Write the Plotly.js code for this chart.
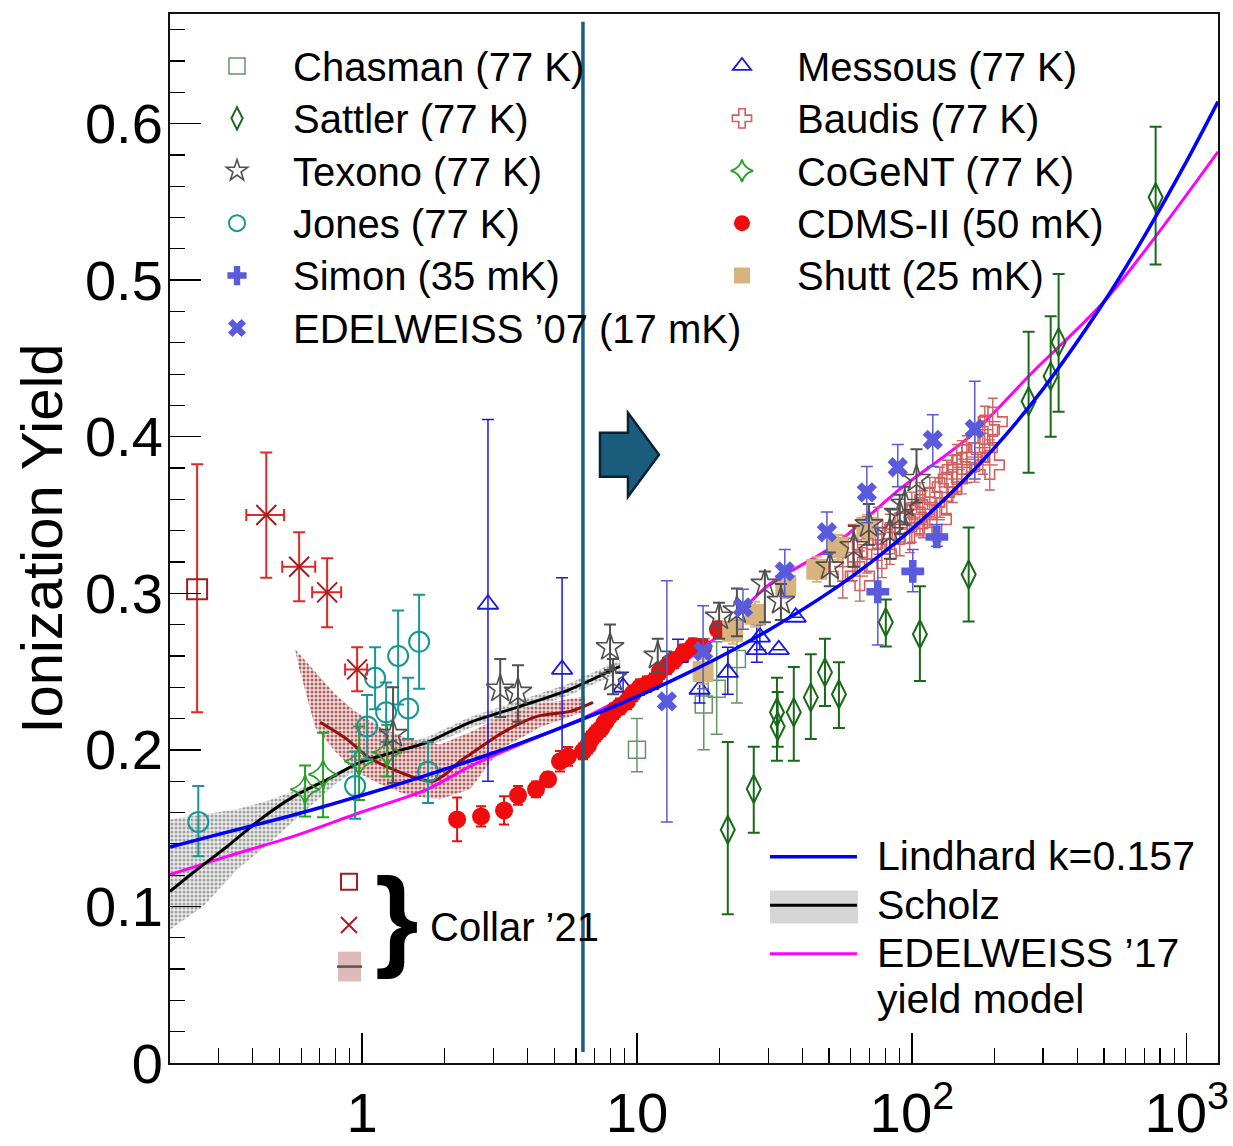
<!DOCTYPE html>
<html><head><meta charset="utf-8">
<script src="https://cdn.plot.ly/plotly-3.0.1.min.js"></script>
<style>html,body{margin:0;padding:0;background:#fff}#chart{width:1233px;height:1146px}</style>
</head><body><div id="chart"></div><script>
const FONT = '"Liberation Sans", Arial, Helvetica, sans-serif';

// ---------------- curves ----------------
const lindE = [0.2,0.3,0.5,0.7,1,1.5,2,3,5,7,10,15,20,30,50,70,100,150,200,300,500,700,1000,1300];
const lindY = [0.138,0.146,0.156,0.163,0.171,0.1805,0.1876,0.198,0.2124,0.2226,0.234,0.2484,0.2593,0.2763,0.3006,0.319,0.341,0.3698,0.393,0.4304,0.486,0.5278,0.576,0.614];

const edw17E = [0.2,0.323,0.561,0.983,1.723,2.47,3.754,6.58,8.67,11.43,15.2,20,29.7,51.6,90.4,162.5,275,516,1300];
const edw17Y = [0.1204,0.132,0.1447,0.160,0.1748,0.1895,0.2035,0.2214,0.2323,0.245,0.2578,0.2738,0.3045,0.330,0.3665,0.4003,0.4412,0.489,0.582];

const scholzE = [0.2,0.243,0.323,0.426,0.561,0.746,0.983,1.296,1.723,2.47,3.754,5.71,8.67];
const scholzY = [0.1096,0.1217,0.1383,0.1556,0.170,0.181,0.192,0.1984,0.2048,0.2176,0.2278,0.2387,0.2534];
const scholzBandE = [0.2,0.264,0.351,0.463,0.61,0.811,0.983,1.3,1.72,2.47,3.75,5.7,8.7, 8.7,5.7,3.75,2.47,1.72,1.3,0.983,0.811,0.61,0.463,0.351,0.264,0.2];
const scholzBandY = [0.1556,0.159,0.162,0.168,0.176,0.1843,0.195,0.202,0.208,0.221,0.2315,0.2425,0.2575, 0.2495,0.235,0.224,0.214,0.2015,0.195,0.1885,0.179,0.160,0.1409,0.1236,0.100,0.0853];

const collarLineE = [0.7035,0.882,1.043,1.296,1.625,1.812,2.004,2.272,2.47,3.256,4.328,5.71,6.92];
const collarLineY = [0.2176,0.2067,0.1958,0.1875,0.1812,0.1799,0.1843,0.1927,0.1971,0.2112,0.2214,0.2246,0.2304];
const collarBandE = [0.571,0.675,0.798,0.943,1.163,1.495,1.921,2.47,3.176,4.439,6.47, 6.47,4.439,3.176,2.47,1.921,1.495,1.163,0.943,0.798,0.675,0.585];
const collarBandY = [0.2642,0.2502,0.2355,0.2246,0.2144,0.2067,0.2035,0.2112,0.2208,0.2291,0.2342, 0.2246,0.2144,0.2003,0.1748,0.1684,0.1703,0.178,0.1863,0.199,0.2144,0.2546];

const dividerE = [6.36, 6.36];
const dividerY = [0.007, 0.665];

// ---------------- data sets ----------------
const chasE = [10,17.5,19.5,23.1];
const chasY = [0.200,0.229,0.239,0.258];
const chasHi = [0.220,0.271,0.269,0.283];
const chasLo = [0.186,0.200,0.210,0.230];

const satE = [21.4,26.6,32.3,32.5,37.2,42.9,48.3,54.3,80.4,107,161,266,320,342,771];
const satY = [0.149,0.175,0.224,0.215,0.224,0.2335,0.2495,0.2355,0.2815,0.2738,0.312,0.4227,0.4387,0.4604,0.553];
const satHi = [0.205,0.202,0.246,0.237,0.253,0.261,0.271,0.256,0.296,0.3045,0.342,0.467,0.477,0.504,0.598];
const satLo = [0.095,0.147,0.193,0.202,0.193,0.207,0.228,0.214,0.266,0.244,0.282,0.377,0.400,0.416,0.510];

const texE = [1.296,3.18,3.69,7.98,8.18,11.9,19.9,23.1,29.2,33.4,50.3,61.5,69.8,83.2,90.4,94.3,104];
const texY = [0.210,0.239,0.237,0.2655,0.246,0.260,0.285,0.289,0.306,0.295,0.317,0.330,0.344,0.339,0.3505,0.357,0.373];
const texHi = [0.240,0.258,0.254,0.280,0.258,0.271,0.294,0.303,0.314,0.306,0.326,0.343,0.357,0.354,0.363,0.368,0.392];
const texLo = [0.179,0.221,0.218,0.251,0.2355,0.2495,0.271,0.2725,0.2815,0.283,0.3045,0.317,0.331,0.322,0.338,0.344,0.358];

const jonE = [0.2535,0.943,1.043,1.115,1.223,1.352,1.47,1.612,1.738];
const jonY = [0.154,0.177,0.215,0.246,0.224,0.260,0.2265,0.269,0.186];
const jonHi = [0.177,0.199,0.235,0.2655,0.243,0.289,0.246,0.299,0.205];
const jonLo = [0.132,0.156,0.194,0.226,0.205,0.229,0.207,0.239,0.166];

const simE = [75.2,100.8,123.3];
const simY = [0.301,0.314,0.336];
const simHi = [0.342,0.328,0.344];
const simLo = [0.267,0.301,0.330];

const edw07E = [12.85,17.4,24.3,34.5,49.1,68.6,88.9,119.2,169.4];
const edw07Y = [0.231,0.263,0.291,0.314,0.339,0.3645,0.3805,0.398,0.405];
const edw07Hi = [0.308,0.292,0.3026,0.328,0.352,0.381,0.395,0.414,0.4355];
const edw07Lo = [0.154,0.239,0.277,0.298,0.325,0.345,0.368,0.381,0.373];

const mesE = [2.87,5.34,8.9,14.1,16.9,21.4,27.3,28.0,32.8,37.8];
const mesY = [0.293,0.2514,0.240,0.259,0.2387,0.2495,0.264,0.272,0.264,0.2847];
const mesHi = [0.411,0.310,0.2495,0.2706,0.250,0.2655,0.280,0.280,0.264,0.2847];
const mesLo = [0.180,0.1895,0.231,0.256,0.230,0.2355,0.256,0.264,0.264,0.2847];

const bauE = [56.1,61.0,64.7,68.6,75.2,77.8,83.2,90.4,98.3,100,107,109.6,116.3,123.3,126.5,134.1,141,145.8,152,158.5,169.4,181.3,184.3,192.1,197];
const bauY = [0.317,0.326,0.311,0.331,0.338,0.325,0.3345,0.342,0.341,0.3486,0.3537,0.3505,0.358,0.347,0.3645,0.368,0.373,0.379,0.3805,0.3856,0.387,0.393,0.4045,0.382,0.4096];
const bauErrY = [0.02,0.018,0.016,0.018,0.017,0.015,0.016,0.018,0.015,0.016,0.017,0.015,0.016,0.014,0.016,0.017,0.015,0.016,0.017,0.015,0.016,0.017,0.015,0.016,0.015];
const bauErrE = [4,4.3,4.5,4.8,5.3,5.4,5.8,6.3,6.9,7,7.5,7.7,8.1,8.6,8.9,9.4,9.9,10.2,10.6,11.1,11.9,12.7,12.9,13.4,13.8];

const cogE = [0.620,0.721,0.975,1.233];
const cogY = [0.1748,0.1843,0.1927,0.1984];
const cogHi = [0.190,0.211,0.215,0.216];
const cogLo = [0.1575,0.157,0.168,0.183];

const cdmsE = [2.216,2.708,3.284,3.692,4.293,4.747,5.248,5.61,6.36,6.64,6.80,7.10,7.40,7.65,7.91,8.25,8.67,9.20,9.67,10.25,10.87,11.53,12.12,12.85,13.63,14.82,15.98,17.4,19.7];
const cdmsY = [0.1556,0.1575,0.1613,0.1709,0.1748,0.1812,0.1927,0.1958,0.199,0.2029,0.2067,0.2105,0.2137,0.2176,0.2214,0.2246,0.2278,0.231,0.2361,0.240,0.2419,0.2438,0.2502,0.2534,0.2572,0.2623,0.2661,0.2655,0.277];
const cdmsErr = [0.014,0.0065,0.009,0.006,0.005,0.0045,0.0065,0.006,0.005,0.005,0.005,0.005,0.005,0.005,0.005,0.005,0.005,0.005,0.005,0.005,0.005,0.005,0.005,0.005,0.005,0.005,0.005,0.005,0.005];

const shuE = [17.4,22.3,26.9,34.8,45.1,53.8,68.6];
const shuY = [0.250,0.2757,0.2866,0.305,0.3153,0.3294,0.3422];
const shuErr = [0.008,0.008,0.008,0.008,0.008,0.008,0.008];

const colSqE = [0.251];
const colSqY = [0.3026];
const colSqHi = [0.3824];
const colSqLo = [0.224];

const colXE = [0.448,0.590,0.746,0.959];
const colXY = [0.350,0.317,0.3006,0.2514];
const colXHi = [0.390,0.339,0.3224,0.2655];
const colXLo = [0.310,0.295,0.2783,0.2374];
const colXEhi = [0.520,0.675,0.839,1.043];
const colXElo = [0.379,0.512,0.658,0.867];

// ---------------- helpers ----------------
function asym(v, hi, lo, color, thick, w) {
  return {type:'data', symmetric:false,
    array: hi.map((h,i)=>Math.max(0, h - v[i])),
    arrayminus: lo.map((l,i)=>Math.max(0, v[i] - l)),
    color: color, thickness: thick, width: w};
}
function sym(arr, color, thick, w) {
  return {type:'data', array: arr, color: color, thickness: thick, width: w};
}
const span = (t, s) => '<span style="font-size:' + s + 'px">' + t + '</span>';
const pad = '<span style="font-size:54px">\u00a0</span>';

function pts(name, legend, rank, x, y, symbol, size, color, lw, ey, ex) {
  const t = {type:'scatter', mode:'markers', x:x, y:y, name:name, legend:legend, legendrank:rank,
    marker:{symbol:symbol, size:size, color:color, line:{color:color, width:lw}},
    error_y: ey, hoverinfo:'skip'};
  if (ex) t.error_x = ex;
  return t;
}

const C = {
  chas:'rgb(100,150,100)', sat:'rgb(25,105,25)', tex:'rgb(80,80,80)', jon:'rgb(25,150,150)',
  vio:'rgb(90,90,220)', mes:'rgb(25,25,225)', bau:'rgb(212,95,95)', cog:'rgb(40,160,40)',
  cdms:'rgb(240,12,12)', shu:'rgb(215,180,125)', colM:'rgb(160,30,30)', colE:'rgb(225,40,40)'
};

const traces = [];
traces.push({type:'scatter', mode:'lines', x:scholzBandE, y:scholzBandY, fill:'toself',
  fillcolor:'rgba(205,205,205,0.55)', line:{width:0, color:'rgba(0,0,0,0)'},
  fillpattern:{shape:'.', fgcolor:'rgba(140,140,140,0.8)', bgcolor:'rgba(215,215,215,0.45)', size:4, solidity:0.45},
  showlegend:false, hoverinfo:'skip'});
traces.push({type:'scatter', mode:'lines', x:collarBandE, y:collarBandY, fill:'toself',
  fillcolor:'rgba(200,130,130,0.5)', line:{width:0, color:'rgba(0,0,0,0)'},
  fillpattern:{shape:'.', fgcolor:'rgba(165,70,70,0.85)', bgcolor:'rgba(230,195,195,0.5)', size:4, solidity:0.45},
  showlegend:false, hoverinfo:'skip'});
traces.push({type:'scatter', mode:'lines', x:edw17E, y:edw17Y, line:{color:'rgb(255,0,255)', width:3, shape:'spline', smoothing:0.8},
  name: pad + span('EDELWEISS ’17', 41) + '<br>' + pad + span('yield model', 41), legend:'legend3', legendrank:3, hoverinfo:'skip'});
traces.push({type:'scatter', mode:'lines', x:scholzE, y:scholzY, line:{color:'#000', width:3, shape:'spline', smoothing:0.8},
  name: pad + span('Scholz', 41), legend:'legend3', legendrank:2, hoverinfo:'skip'});
traces.push({type:'scatter', mode:'lines', x:collarLineE, y:collarLineY, line:{color:'rgb(150,15,15)', width:3, shape:'spline', smoothing:0.8},
  showlegend:false, hoverinfo:'skip'});

const L1 = 'legend', L2 = 'legend2', L4 = 'legend4';
traces.push(pts(span('Chasman (77 K)',40), L1, 1, chasE, chasY, 'square-open', 17, C.chas, 1.5, asym(chasY, chasHi, chasLo, C.chas, 1.5, 6)));
traces.push(pts(span('Sattler (77 K)',40), L1, 2, satE, satY, 'diamond-tall-open', 20, C.sat, 2, asym(satY, satHi, satLo, C.sat, 2, 6)));
traces.push(pts(span('Messous (77 K)',40), L2, 1, mesE, mesY, 'triangle-up-open', 18, C.mes, 1.8, asym(mesY, mesHi, mesLo, C.mes, 1.5, 6)));
traces.push(pts(span('Baudis (77 K)',40), L2, 2, bauE, bauY, 'cross-open', 24, C.bau, 1.6, sym(bauErrY, C.bau, 1.4, 5), sym(bauErrE, C.bau, 1.4, 0)));
traces.push(pts(span('CoGeNT (77 K)',40), L2, 3, cogE, cogY, 'star-diamond-open', 21, C.cog, 1.8, asym(cogY, cogHi, cogLo, C.cog, 2, 6)));
traces.push(pts(span('Jones (77 K)',40), L1, 4, jonE, jonY, 'circle-open', 20, C.jon, 2, asym(jonY, jonHi, jonLo, C.jon, 2, 6)));
traces.push(pts(span('CDMS-II (50 mK)',40), L2, 4, cdmsE, cdmsY, 'circle', 18, C.cdms, 0, sym(cdmsErr, C.cdms, 2, 5)));
traces.push(pts(span('Shutt (25 mK)',40), L2, 5, shuE, shuY, 'square', 21, C.shu, 0, sym(shuErr, C.shu, 2, 5)));
traces.push(pts(span('Texono (77 K)',40), L1, 3, texE, texY, 'star-open', 21, C.tex, 1.6, asym(texY, texHi, texLo, C.tex, 2, 6)));
traces.push(pts(span('Simon (35 mK)',40), L1, 5, simE, simY, 'cross', 19, C.vio, 0, asym(simY, simHi, simLo, C.vio, 1.5, 6)));
traces.push(pts(span('EDELWEISS ’07 (17 mK)',40), L1, 6, edw07E, edw07Y, 'x', 18, C.vio, 0, asym(edw07Y, edw07Hi, edw07Lo, C.vio, 1.5, 6)));
traces.push(pts('\u00a0', L4, 1, colSqE, colSqY, 'square-open', 20, C.colM, 2, asym(colSqY, colSqHi, colSqLo, C.colE, 2, 6)));
traces.push(pts('\u00a0', L4, 2, colXE, colXY, 'x-thin-open', 20, C.colM, 2, asym(colXY, colXHi, colXLo, C.colE, 2, 6), asym(colXE, colXEhi, colXElo, C.colE, 2, 6)));

traces.push({type:'scatter', mode:'lines', x:lindE, y:lindY, line:{color:'rgb(0,0,255)', width:3.5, shape:'spline', smoothing:0.8},
  name: pad + span('Lindhard k=0.157', 41), legend:'legend3', legendrank:1, hoverinfo:'skip'});
traces.push({type:'scatter', mode:'lines', x:dividerE, y:dividerY, line:{color:'rgb(25,95,130)', width:3.5}, showlegend:false, hoverinfo:'skip'});

const legBase = {bgcolor:'rgba(0,0,0,0)', borderwidth:0, xanchor:'left', yanchor:'top', tracegroupgap:0, traceorder:'normal'};
const layout = {
  width:1233, height:1146,
  margin:{l:170, r:15, t:14, b:82.5, pad:0},
  paper_bgcolor:'#fff', plot_bgcolor:'#fff',
  font:{family:FONT, color:'#000'},
  xaxis:{type:'log', range:[Math.log10(0.2), Math.log10(1300)], tickmode:'linear', tick0:0, dtick:1,
    exponentformat:'power', ticks:'inside', ticklen:30, tickwidth:1.5, tickcolor:'#000',
    minor:{dtick:'D1', ticks:'inside', ticklen:15, tickwidth:1.2, tickcolor:'#000', showgrid:false},
    showgrid:false, zeroline:false, showline:true, linewidth:2, linecolor:'#111', mirror:true,
    tickfont:{family:FONT, size:45, color:'#000'}, ticklabelstandoff:2},
  yaxis:{range:[0,0.67], tickmode:'linear', tick0:0, dtick:0.1, ticks:'inside', ticklen:31, tickwidth:1.5, tickcolor:'#000',
    minor:{dtick:0.02, ticks:'inside', ticklen:15, tickwidth:1.2, tickcolor:'#000', showgrid:false},
    showgrid:false, zeroline:false, showline:true, linewidth:2, linecolor:'#111', mirror:true,
    tickfont:{family:FONT, size:56, color:'#000'}, ticklabelstandoff:-6,
    title:{text:'Ionization Yield', font:{family:FONT, size:58, color:'#000'}, standoff:4}},
  showlegend:true,
  legend: Object.assign({}, legBase, {x:0.0105, y:0.9802, itemwidth:102, font:{family:FONT, size:38, color:'#000'}}),
  legend2: Object.assign({}, legBase, {x:0.4933, y:0.9802, itemwidth:100, font:{family:FONT, size:38, color:'#000'}}),
  legend3: Object.assign({}, legBase, {x:0.5677, y:0.2246, itemwidth:87, valign:'top', font:{family:FONT, size:35, color:'#000'}}),
  legend4: Object.assign({}, legBase, {x:0.1517, y:0.1983, itemwidth:30, font:{family:FONT, size:31, color:'#000'}}),
  shapes:[
    {type:'path', xref:'paper', yref:'paper', layer:'above',
     path:'M0.4103,0.6008 L0.4370,0.6008 L0.4370,0.6198 L0.4666,0.5798 L0.4370,0.5398 L0.4370,0.5588 L0.4103,0.5588 Z',
     fillcolor:'rgb(27,92,125)', line:{color:'rgb(10,35,50)', width:2.5}},
    {type:'rect', xref:'paper', yref:'paper', layer:'below', x0:0.5725, x1:0.6565, y0:0.1329, y1:0.1644,
     fillcolor:'rgb(214,214,214)', line:{width:0}},
    {type:'rect', xref:'paper', yref:'paper', layer:'below', x0:0.1603, x1:0.1823, y0:0.0777, y1:0.1062,
     fillcolor:'rgba(205,150,150,0.65)', line:{width:0}},
    {type:'line', xref:'paper', yref:'paper', layer:'above', x0:0.1594, x1:0.1832, y0:0.0919, y1:0.0919,
     line:{color:'#555', width:2.5}}
  ],
  annotations:[
    {xref:'paper', yref:'paper', x:0.2166, y:0.139, xanchor:'center', yanchor:'middle', showarrow:false,
     text:'<b>}</b>', font:{family:FONT, size:112, color:'#000'}},
    {xref:'paper', yref:'paper', x:0.2462, y:0.130, xanchor:'left', yanchor:'middle', showarrow:false,
     text:'Collar ’21', font:{family:FONT, size:40, color:'#000'}}
  ]
};

Plotly.newPlot('chart', traces, layout, {displayModeBar:false, staticPlot:true});
</script></body></html>
